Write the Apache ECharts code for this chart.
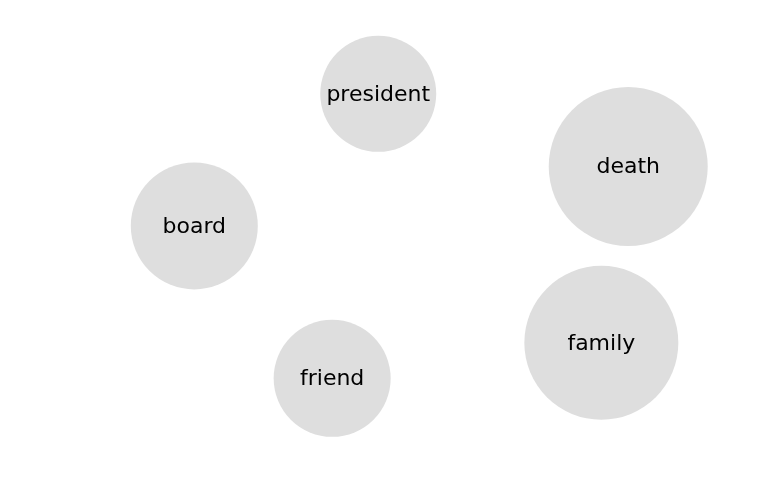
<!DOCTYPE html>
<html>
<head>
<meta charset="utf-8">
<script src="https://cdn.jsdelivr.net/npm/echarts@6/dist/echarts.min.js"></script>
<style>html,body{margin:0;padding:0;background:#fff}#c{width:768px;height:500px}</style>
</head>
<body>
<div id="c"></div>
<script>
const words = ["president", "death", "board", "family", "friend"];
const xs = [49.25, 81.8, 25.3, 78.3, 43.25];
const ys = [85.5, 67.3, 52.4, 23.1, 14.2];
const sizes = [116, 159, 127, 154, 117];

const chart = echarts.init(document.getElementById('c'), null, {renderer: 'canvas'});
chart.setOption({
  animation: false,
  backgroundColor: '#ffffff',
  grid: {left: 0, right: 0, top: 36, bottom: 65},
  xAxis: {type: 'value', min: 0, max: 100, show: false},
  yAxis: {type: 'value', min: 0, max: 100, show: false},
  series: [{
    type: 'scatter',
    clip: true,
    data: words.map((w, i) => ({name: w, value: [xs[i], ys[i], sizes[i]]})),
    symbolSize: v => v[2],
    itemStyle: {color: '#dedede', opacity: 1},
    label: {
      show: true,
      position: 'inside',
      formatter: p => p.name,
      color: '#000000',
      fontFamily: 'DejaVu Sans',
      fontSize: 22,
      offset: [0, 1]
    }
  }]
});
</script>
</body>
</html>
